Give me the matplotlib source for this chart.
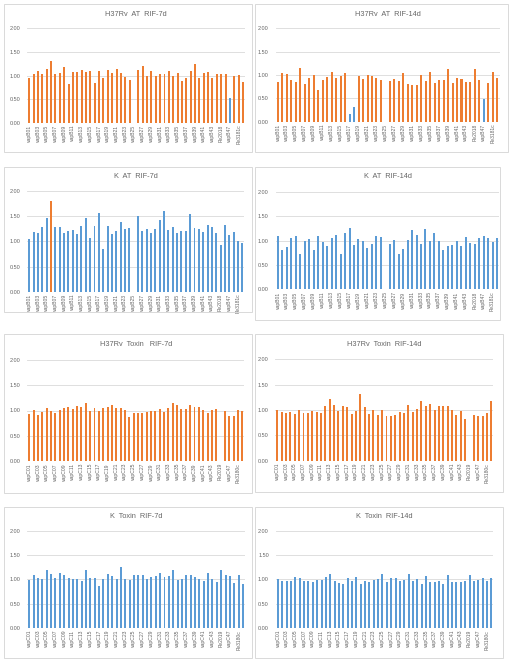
import numpy as np
import matplotlib
matplotlib.use('Agg')
import matplotlib.pyplot as plt
from matplotlib.patches import Rectangle

plt.rcParams['font.family'] = ['Liberation Sans', 'DejaVu Sans']

# category names (50 loci), only every other one is printed as in the original
at_names = ['vapB%02d' % i for i in range(1, 51)]
at_names[44] = 'Rv2018'
at_names[48] = 'Rv3181c'
tox_names = ['vapC%02d' % i for i in range(1, 51)]
tox_names[44] = 'Rv2019'
tox_names[48] = 'Rv3180c'

h37_at_7d = [0.95, 1.04, 1.10, 1.03, 1.14, 1.30, 1.03, 1.05, 1.19, 0.83,
             1.07, 1.07, 1.12, 1.07, 1.10, 0.85, 1.10, 0.95, 1.12, 1.05,
             1.14, 1.05, 0.97, 0.90, 0.00, 1.12, 1.20, 1.00, 1.10, 0.98,
             1.04, 1.04, 1.10, 0.98, 1.05, 0.89, 0.95, 1.10, 1.24, 0.95,
             1.06, 1.08, 0.95, 1.03, 1.03, 1.03, 0.53, 0.98, 1.02, 0.86]
h37_at_14d = [0.86, 1.05, 1.02, 0.89, 0.84, 1.15, 0.81, 0.94, 0.99, 0.67,
              0.90, 0.95, 1.07, 0.94, 0.98, 1.04, 0.16, 0.31, 0.98, 0.91,
              1.01, 0.98, 0.94, 0.89, 0.00, 0.87, 0.91, 0.88, 1.04, 0.80,
              0.79, 0.78, 0.99, 0.88, 1.06, 0.83, 0.89, 0.89, 1.13, 0.83,
              0.94, 0.91, 0.85, 0.86, 1.12, 0.90, 0.49, 0.82, 1.06, 0.94]
k_at_7d = [1.04, 1.19, 1.17, 1.29, 1.46, 1.80, 1.28, 1.29, 1.17, 1.21,
           1.23, 1.15, 1.31, 1.46, 1.06, 1.30, 1.56, 0.84, 1.30, 1.15,
           1.21, 1.38, 1.25, 1.26, 0.00, 1.50, 1.21, 1.24, 1.17, 1.25,
           1.42, 1.60, 1.23, 1.28, 1.16, 1.20, 1.20, 1.54, 1.27, 1.25,
           1.18, 1.32, 1.29, 1.16, 0.92, 1.32, 1.13, 1.18, 1.01, 0.97]
k_at_14d = [1.09, 0.81, 0.87, 1.05, 1.09, 0.73, 1.00, 1.03, 0.81, 1.10,
            0.97, 0.90, 1.05, 1.12, 0.73, 1.16, 1.27, 0.92, 1.03, 1.00,
            0.85, 0.93, 1.10, 1.08, 0.00, 0.94, 1.01, 0.73, 0.83, 1.01,
            1.21, 1.11, 0.94, 1.24, 0.99, 1.15, 0.99, 0.81, 0.88, 0.92,
            0.99, 0.90, 1.07, 0.95, 0.93, 1.05, 1.10, 1.05, 0.97, 1.05]
h37_tox_7d = [0.94, 1.01, 0.92, 0.97, 1.05, 1.00, 0.96, 1.01, 1.05, 1.06,
              1.02, 1.08, 1.07, 1.15, 1.00, 1.05, 0.99, 1.04, 1.06, 1.10,
              1.05, 1.05, 1.01, 0.88, 0.96, 0.96, 0.96, 0.98, 1.00, 1.00,
              1.03, 0.97, 1.05, 1.15, 1.10, 1.02, 1.03, 1.10, 1.06, 1.06,
              1.01, 0.96, 1.01, 1.02, 0.00, 1.00, 0.89, 0.90, 1.01, 0.99]
h37_tox_14d = [1.00, 0.97, 0.95, 0.97, 0.93, 1.00, 0.95, 0.95, 0.99, 0.97,
               0.95, 1.07, 1.22, 1.09, 0.98, 1.07, 1.05, 0.93, 0.99, 1.31,
               1.06, 0.93, 1.00, 0.91, 1.00, 0.89, 0.88, 0.90, 0.97, 0.94,
               1.09, 0.97, 1.02, 1.18, 1.07, 1.11, 1.00, 1.07, 1.07, 1.07,
               1.00, 0.90, 0.99, 0.82, 0.00, 0.91, 0.89, 0.89, 0.95, 1.18]
k_tox_7d = [0.99, 1.08, 1.02, 1.00, 1.20, 1.11, 1.03, 1.13, 1.09, 1.03,
            1.01, 1.01, 0.96, 1.19, 1.03, 1.03, 0.87, 1.01, 1.12, 1.07,
            1.01, 1.26, 1.01, 0.99, 1.09, 1.08, 1.08, 1.01, 1.05, 1.07,
            1.13, 1.05, 1.06, 1.20, 0.99, 1.01, 1.08, 1.10, 1.05, 1.00,
            0.97, 1.13, 1.00, 0.94, 1.19, 1.08, 1.06, 0.92, 1.08, 0.90]
k_tox_14d = [1.00, 0.97, 0.97, 0.97, 1.04, 1.03, 0.96, 0.97, 0.95, 0.99,
             0.99, 1.05, 1.11, 0.97, 0.92, 0.90, 1.02, 0.97, 1.05, 0.90,
             0.97, 0.95, 0.98, 1.00, 1.12, 0.95, 1.03, 1.02, 0.96, 0.99,
             1.12, 0.96, 1.00, 0.91, 1.06, 0.95, 0.95, 0.96, 0.90, 1.08,
             0.95, 0.95, 0.95, 0.97, 1.09, 0.97, 0.98, 1.03, 0.97, 1.03]

orange = '#ED7D31'
blue = '#5B9BD5'
grey = '#666666'
W, H = 517, 666

# title, values, names, base colour, other colour, highlighted bars,
# box (l, t, r, b) px, first bar x, last bar x, y of 2.00, y of 0.00, title y
panels = [
    ('H37Rv  AT  RIF-7d', h37_at_7d, at_names, orange, blue, [46],
     (4, 4, 252, 152), 29.3, 243.0, 28.3, 122.7, 15),
    ('H37Rv  AT  RIF-14d', h37_at_14d, at_names, orange, blue, [16, 17, 46],
     (255, 4, 508, 152), 278.0, 497.3, 28.3, 121.7, 15),
    ('K  AT  RIF-7d', k_at_7d, at_names, blue, orange, [5],
     (4, 167, 252, 312), 29.3, 242.3, 191.0, 291.7, 177),
    ('K  AT  RIF-14d', k_at_14d, at_names, blue, orange, [],
     (255, 167, 500, 320), 278.0, 497.0, 192.0, 289.3, 177),
    ('H37Rv  Toxin   RIF-7d', h37_tox_7d, tox_names, orange, blue, [],
     (4, 334, 252, 493), 29.3, 242.3, 360.0, 461.0, 345),
    ('H37Rv  Toxin  RIF-14d', h37_tox_14d, tox_names, orange, blue, [],
     (255, 334, 503, 492), 277.3, 491.3, 359.3, 460.7, 345),
    ('K  Toxin  RIF-7d', k_tox_7d, tox_names, blue, orange, [],
     (4, 507, 252, 658), 29.3, 243.0, 531.0, 627.7, 517),
    ('K  Toxin  RIF-14d', k_tox_14d, tox_names, blue, orange, [],
     (255, 507, 503, 658), 278.0, 491.3, 531.0, 627.7, 517),
]

fig = plt.figure(figsize=(W / 100, H / 100), dpi=100)

for (title, vals, names, c0, c1, hi, box, xf, xl, y2, y0, ty) in panels:
    l, t, r, b = box
    fig.add_artist(Rectangle((l / W, 1 - b / H), (r - l) / W, (b - t) / H,
                             transform=fig.transFigure, fill=False,
                             ec='#D9D9D9', lw=0.7))
    n = len(vals)
    sp = (xl - xf) / (n - 1)
    left = xf - 0.5 * sp
    ax = fig.add_axes([left / W, 1 - y0 / H, n * sp / W, (y0 - y2) / H])
    x = np.arange(n)
    colors = [c1 if i in hi else c0 for i in range(n)]
    ax.bar(x, vals, width=0.45, color=colors, zorder=2)
    ax.set_xlim(-0.5, n - 0.5)
    ax.set_ylim(0, 2)
    ax.set_yticks([0, 0.5, 1.0, 1.5, 2.0])
    ax.set_yticklabels(['%.2f' % v for v in [0, 0.5, 1.0, 1.5, 2.0]])
    ax.grid(axis='y', color='#D9D9D9', lw=0.6, zorder=0)
    ax.set_xticks(x[::2])
    ax.set_xticklabels(names[::2], rotation=90)
    for s in ax.spines.values():
        s.set_visible(False)
    ax.tick_params(length=0, colors=grey)
    ax.tick_params(axis='x', pad=1.5, labelsize=3.6)
    ax.tick_params(axis='y', pad=5, labelsize=4.0)
    fig.text((left + n * sp / 2) / W, 1 - ty / H, title, ha='center',
             va='center', fontsize=5.3, color=grey)

fig.savefig('out.png', dpi=100)
